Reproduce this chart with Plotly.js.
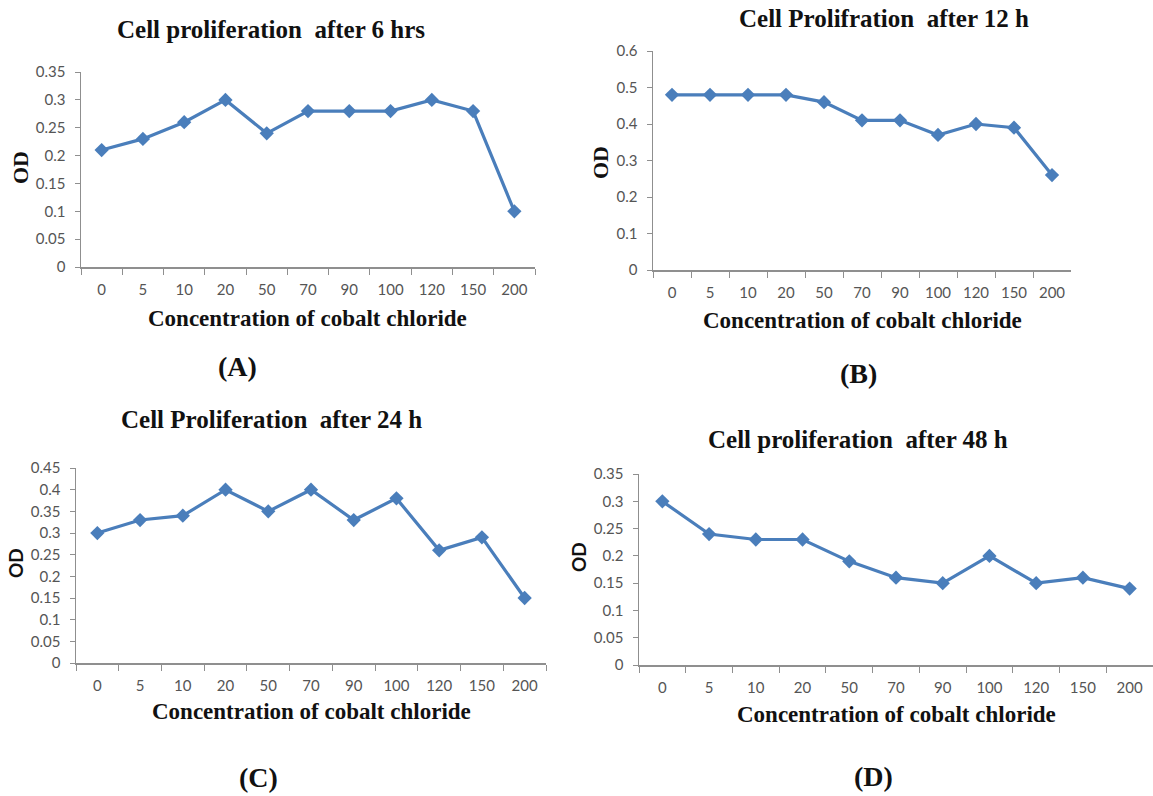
<!DOCTYPE html>
<html><head><meta charset="utf-8">
<script src="https://cdn.plot.ly/plotly-3.0.1.min.js"></script>
<style>html,body{margin:0;padding:0;background:#fff}#c{width:1153px;height:796px}</style>
</head><body><div id="c"></div>
<script>
const concentrations = ["0","5","10","20","50","70","90","100","120","150","200"];
const od6h  = [0.21,0.23,0.26,0.30,0.24,0.28,0.28,0.28,0.30,0.28,0.10];
const od12h = [0.48,0.48,0.48,0.48,0.46,0.41,0.41,0.37,0.40,0.39,0.26];
const od24h = [0.30,0.33,0.34,0.40,0.35,0.40,0.33,0.38,0.26,0.29,0.15];
const od48h = [0.30,0.24,0.23,0.23,0.19,0.16,0.15,0.20,0.15,0.16,0.14];
const panelTitles = ["Cell proliferation\u00a0 after 6 hrs","Cell Prolifration\u00a0 after 12 h","Cell Proliferation\u00a0 after 24 h","Cell proliferation\u00a0 after 48 h"];
const panelLabels = ["(A)","(B)","(C)","(D)"];
const xTitle = "Concentration of cobalt chloride";
const yTitle = "OD";

const W=1153,H=796;
const BLUE="#4A7EBB";
const panels=[
 {data:od6h, xd:[81,535], yd:[267,72], top:0.35, dt:0.05, title:[271,29], od:[20,168], odSerif:true, xt:[307,318], lab:[237,366]},
 {data:od12h,xd:[653,1071],yd:[270,51], top:0.6, dt:0.1, title:[884,18], od:[600,163], odSerif:true, xt:[862,321], lab:[858,373]},
 {data:od24h,xd:[76,546], yd:[663,468], top:0.45, dt:0.05, title:[271,420], od:[15,563], odSerif:false, xt:[311,711], lab:[258,777]},
 {data:od48h,xd:[639,1153],yd:[665,474], top:0.35, dt:0.05, title:[858,440], od:[578,557], odSerif:false, xt:[896,714], lab:[873,776]}
];
const traces=[], layout={width:W,height:H,margin:{l:0,r:0,t:0,b:0},showlegend:false,paper_bgcolor:"#fff",plot_bgcolor:"rgba(0,0,0,0)",annotations:[]};
const serif="Liberation Serif, Times New Roman, serif";
const sans="Lato, Carlito, Calibri, sans-serif";
panels.forEach((p,i)=>{
  const n=i===0?"":String(i+1);
  traces.push({x:concentrations,y:p.data,type:"scatter",mode:"lines+markers",xaxis:"x"+n,yaxis:"y"+n,
    line:{color:BLUE,width:3.2},marker:{symbol:"diamond",size:11,color:BLUE}});
  layout["xaxis"+n]={domain:[p.xd[0]/W,p.xd[1]/W],anchor:"y"+n,type:"category",range:[-0.5,10.5],
    showline:true,linecolor:"#8f8f8f",linewidth:1.5,ticks:"outside",tickson:"boundaries",ticklen:6,tickcolor:"#8f8f8f",
    showgrid:false,zeroline:false,tickfont:{family:sans,size:15,color:"#555"},ticklabelstandoff:8,fixedrange:true};
  layout["yaxis"+n]={domain:[1-p.yd[0]/H,1-p.yd[1]/H],anchor:"x"+n,range:[0,p.top+0.0001],dtick:p.dt,tick0:0,
    showline:true,linecolor:"#8f8f8f",linewidth:1.5,ticks:"outside",ticklen:5,tickcolor:"#8f8f8f",
    showgrid:false,zeroline:false,tickfont:{family:sans,size:15,color:"#555"},ticklabelstandoff:6,fixedrange:true};
  const A=(t,xy,font,extra)=>layout.annotations.push(Object.assign({text:"<b>"+t+"</b>",xref:"paper",yref:"paper",x:xy[0]/W,y:1-xy[1]/H,
    xanchor:"center",yanchor:"middle",showarrow:false,font:font},extra||{}));
  A(panelTitles[i],p.title,{family:serif,size:25,color:"#111"});
  A(xTitle,p.xt,{family:serif,size:23,color:"#111"});
  A(yTitle,p.od,{family:p.odSerif?serif:sans,size:p.odSerif?22:19,color:"#111"},{textangle:-90});
  A(panelLabels[i],p.lab,{family:serif,size:28,color:"#111"});
});
Plotly.newPlot("c",traces,layout,{staticPlot:true,displayModeBar:false});
</script></body></html>
